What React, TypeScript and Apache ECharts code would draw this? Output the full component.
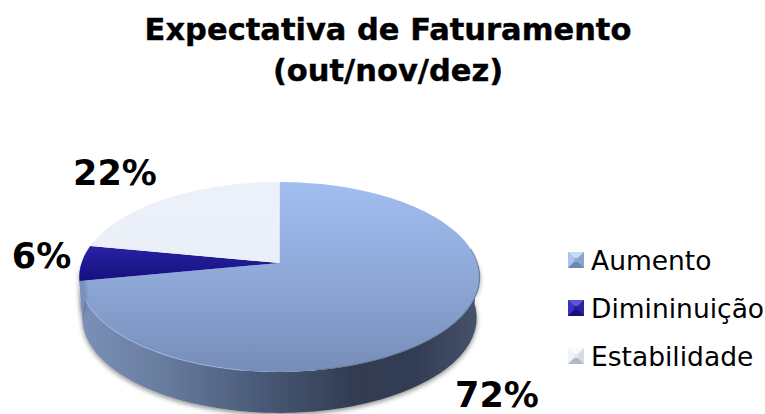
import React, { useEffect, useRef } from "react";
import * as echarts from "echarts";

const titleLines = ["Expectativa de Faturamento", "(out/nov/dez)"];
const categories = ["Aumento", "Dimininuição", "Estabilidade"];
const values = [72, 6, 22];
const percentLabels = ["72%", "6%", "22%"];

const CX = 279.5, CY = 263, RX = 198, H = 92.9, K = 0.147, DEPTH = 41;
const project = (t: number, scale = 1, dy = 0): number[] => {
  const w = 1 + K * Math.cos(t);
  return [CX + (scale * RX * Math.sin(t)) / w, CY + dy - (H * Math.cos(t)) / w];
};
const arc = (a: number, b: number, scale = 1, dy = 0): number[][] => {
  const n = Math.max(2, Math.ceil(Math.abs(b - a) / 0.02));
  const pts: number[][] = [];
  for (let i = 0; i <= n; i++) pts.push(project(a + ((b - a) * i) / n, scale, dy));
  return pts;
};
const total = values.reduce((s, v) => s + v, 0);
const startAngle = (idx: number) =>
  (values.slice(0, idx).reduce((s, v) => s + v, 0) / total) * Math.PI * 2;

const lg = (x0: number, y0: number, x1: number, y1: number, stops: [number, string][]) =>
  new echarts.graphic.LinearGradient(
    x0, y0, x1, y1,
    stops.map(([offset, color]) => ({ offset, color })),
    true
  );

const faceFills = [
  () => lg(0, 182, 0, 372, [[0, "#a1bef0"], [0.5, "#8ea8d8"], [1, "#768db8"]]),
  () => lg(0, 244, 0, 282, [[0, "#2a22a6"], [1, "#14107c"]]),
  () => lg(0, 182, 0, 262, [[0, "#ebf0f9"], [1, "#eaeff8"]]),
];
const sideFill = () =>
  lg(80, 0, 478, 0, [
    [0, "#7b91b9"],
    [0.2, "#697d9f"],
    [0.45, "#4a5a78"],
    [0.7, "#303b50"],
    [0.85, "#333e54"],
    [1, "#46536b"],
  ]);
const labelPos = [[497, 395], [41.5, 256], [115, 173]];

function renderSlice(idx: number) {
  return () => {
    const a = startAngle(idx);
    const b = startAngle(idx + 1);
    const children: any[] = [];
    const sideFrom = Math.max(a, Math.PI / 2);
    const sideTo = Math.min(b, (3 * Math.PI) / 2);
    if (sideTo > sideFrom) {
      const top = arc(sideFrom, sideTo);
      const bottom = arc(sideTo, sideFrom, 0.985, DEPTH);
      children.push({
        type: "polygon",
        shape: { points: [...top, ...bottom] },
        style: {
          fill: sideFill(),
          shadowBlur: 5,
          shadowColor: "rgba(0,0,0,0.45)",
          shadowOffsetY: 2,
        },
      });
    }
    children.push({
      type: "polygon",
      shape: { points: [[CX, CY], ...arc(a, b)] },
      style: { fill: faceFills[idx]() },
    });
    if (idx === 0) {
      children.push({
        type: "polyline",
        shape: { points: arc(Math.PI * 1.05, b) },
        style: { fill: "none", stroke: "rgba(165,190,235,0.6)", lineWidth: 1.2 },
      });
      children.push({
        type: "polyline",
        shape: { points: arc(Math.PI * 0.45, Math.PI * 0.95) },
        style: { fill: "none", stroke: "rgba(45,55,75,0.3)", lineWidth: 1.5 },
      });
    }
    children.push({
      type: "text",
      x: labelPos[idx][0],
      y: labelPos[idx][1],
      style: {
        text: percentLabels[idx],
        font: 'bold 35px "DejaVu Sans"',
        fill: "#000",
        align: "center",
        verticalAlign: "middle",
      },
    });
    return { type: "group", children };
  };
}

const iconColors = [
  ["#a9c4ef", "#8aa5d2", "#6f87ae", "#c9daf5", "#8fa9d4"],
  ["#3a33c0", "#2a24a0", "#14107a", "#5a54d8", "#23209a"],
  ["#eef2fa", "#d6dbe4", "#b4b9c2", "#f8fafd", "#e4e8f0"],
];
const ICON_X = 568, ICON_S = 16, ICON_Y = [252, 300, 348];
const bevelIcons = ICON_Y.flatMap((y, i) => {
  const [l, r, b, t, c] = iconColors[i];
  const x = ICON_X, s = ICON_S, m = 6;
  const tri = (pts: number[][], fill: string) => ({ type: "polygon", shape: { points: pts }, style: { fill } });
  return [
    tri([[x, y], [x + s, y], [x + s - m, y + m], [x + m, y + m]], t),
    tri([[x, y], [x + m, y + m], [x + m, y + s - m], [x, y + s]], l),
    tri([[x + s, y], [x + s, y + s], [x + s - m, y + s - m], [x + s - m, y + m]], r),
    tri([[x, y + s], [x + m, y + s - m], [x + s - m, y + s - m], [x + s, y + s]], b),
    { type: "rect", shape: { x: x + m, y: y + m, width: s - 2 * m, height: s - 2 * m }, style: { fill: c } },
  ];
});

export default function App() {
  const ref = useRef<HTMLDivElement>(null);
  useEffect(() => {
    document.body.style.margin = "0";
    const chart = echarts.init(ref.current!, undefined, { renderer: "svg" });
    chart.setOption({
      animation: false,
      backgroundColor: "#fff",
      title: {
        text: titleLines.join("\n"),
        left: 383,
        top: 4,
        textAlign: "center",
        textStyle: {
          fontFamily: "DejaVu Sans",
          fontWeight: "bold",
          fontSize: 30.5,
          lineHeight: 41,
          color: "#000",
          textBorderColor: "#000",
          textBorderWidth: 0.4,
        },
      },
      legend: {
        orient: "vertical",
        left: 568,
        top: 246.5,
        padding: 0,
        itemWidth: 16,
        itemHeight: 16,
        itemGap: 21,
        icon: "rect",
        data: categories.map((name, i) => ({ name, itemStyle: { color: iconColors[i][4] } })),
        textStyle: { fontFamily: "DejaVu Sans", fontSize: 26.5, color: "#000", padding: [0, 0, 0, 2] },
        selectedMode: false,
      },
      graphic: { elements: bevelIcons.map((e) => ({ ...e, z: 100 })) },
      series: categories.map((name, i) => ({
        type: "custom",
        name,
        coordinateSystem: "none",
        data: [values[i]],
        renderItem: renderSlice(i),
      })),
    });
    return () => chart.dispose();
  }, []);
  return <div ref={ref} style={{ width: 765, height: 414 }} />;
}
